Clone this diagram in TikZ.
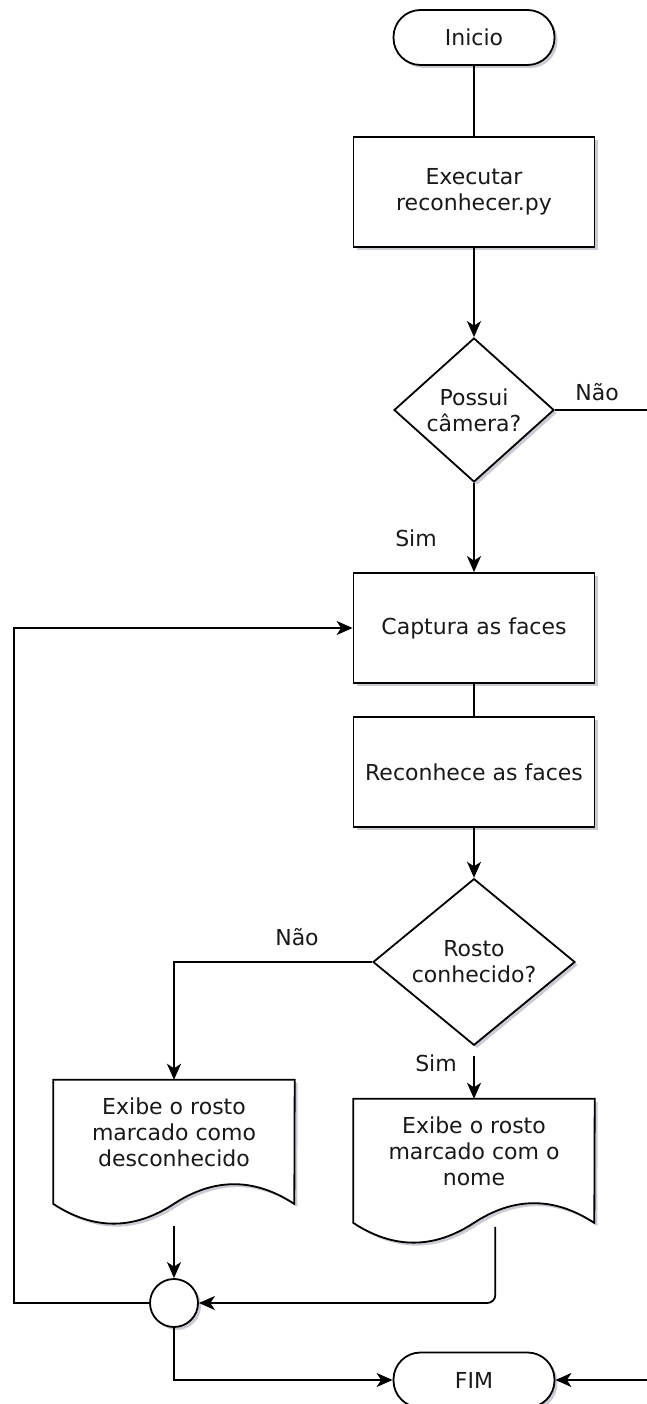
\documentclass[tikz,border=0pt]{standalone}
\usepackage{fontspec}
\setmainfont{DejaVu Sans}
\usetikzlibrary{shapes.geometric,arrows.meta,calc,shadows}

\newcommand\docpath[1]{%
  \draw[docline] (#1.north west) -- (#1.north east)
    -- ($(#1.north west)+(241,124.1)$)
    .. controls ($(#1.north west)+(200.8,97.8)$) and ($(#1.north west)+(160.7,97.8)$) .. ($(#1.north west)+(120.5,124.1)$)
    .. controls ($(#1.north west)+(80.3,150.4)$) and ($(#1.north west)+(40.2,150.4)$) .. ($(#1.north west)+(0,124.1)$)
    -- cycle;}

\begin{document}
\begin{tikzpicture}[x=1pt,y=-1pt,
  font=\fontsize{22}{26}\selectfont,
  every node/.style={text=black!90},
  shad/.style={drop shadow={shadow xshift=3pt,shadow yshift=-3pt,fill=blue!15!black!45,opacity=0.45}},
  box/.style={draw, line width=1.8pt, fill=white, shad, minimum width=241pt, minimum height=110pt, inner sep=0pt, align=center},
  term/.style={draw, line width=1.8pt, fill=white, shad, rounded corners=27pt, minimum width=161pt, minimum height=55pt, inner sep=0pt},
  dec/.style={diamond, draw, line width=1.8pt, fill=white, shad, inner sep=0pt, align=center},
  docbox/.style={draw=none, minimum width=241pt, minimum height=146pt, inner sep=0pt},
  docline/.style={draw, line width=1.8pt, fill=white, shad},
  doctext/.style={align=center, inner sep=0pt},
  junc/.style={circle, draw, line width=1.8pt, fill=white, shad, minimum size=48pt, inner sep=0pt},
  lbl/.style={inner sep=0pt},
  conn/.style={line width=1.8pt},
  arr/.style={conn, -{Stealth[length=16pt,width=14pt,inset=4.5pt]}}
]
\useasboundingbox (0,0) rectangle (647,1404);
\clip (0,0) rectangle (647,1404);

\node[term] (inicio) at (474,37.5) {Inicio};
\node[box] (exec) at (474,192) {Executar\\reconhecer.py};
\node[dec, minimum width=160pt, minimum height=144pt] (d1) at (474,410) {Possui\\câmera?};
\node[box] (capt) at (474,628) {Captura as faces};
\node[box] (recon) at (474,772) {Reconhece as faces};
\node[dec, minimum width=202pt, minimum height=162pt] (d2) at (474,962) {Rosto\\conhecido?};

\node[docbox] (doc1) at (174,1153) {};
\docpath{doc1}
\node[doctext] (doc1t) at ($(doc1.north)+(0,52)$) {Exibe o rosto\\marcado como\\desconhecido};

\node[docbox] (doc2) at (474,1172) {};
\docpath{doc2}
\node[doctext] (doc2t) at ($(doc2.north)+(0,52)$) {Exibe o rosto\\marcado com o\\nome};

\node[junc] (circ) at (174,1303) {};
\node[term] (fim) at (474,1380) {FIM};

\node[lbl] (nao1) at (597,392) {Não};
\node[lbl] (sim1) at (416,538) {Sim};
\node[lbl] (nao2) at (297,937) {Não};
\node[lbl] (sim2) at (436,1063) {Sim};

\coordinate (rr) at (690,1380);
\coordinate (lx) at (14,628);
\coordinate (d2out) at ($(d2.south)+(0,10)$);
\coordinate (doc2out) at ($(doc2.north west)+(142,128)$);

\draw[conn] (inicio.south) -- (exec.north);
\draw[arr] (exec.south) -- (d1.north);
\draw[arr] (d1.east) -| (rr) -- (fim.east);
\draw[arr] (d1.south) -- (capt.north);
\draw[conn] (capt.south) -- (recon.north);
\draw[arr] (recon.south) -- (d2.north);
\draw[arr] (d2.west) -| (doc1.north);
\draw[arr] (d2out) -- (doc2.north);
\draw[arr] (doc1.south) -- (circ.north);
\draw[arr, rounded corners=8pt] (doc2out) |- (circ.east);
\draw[arr] (circ.west) -| (lx) -- (capt.west);
\draw[arr] (circ.south) |- (fim.west);
\end{tikzpicture}
\end{document}
